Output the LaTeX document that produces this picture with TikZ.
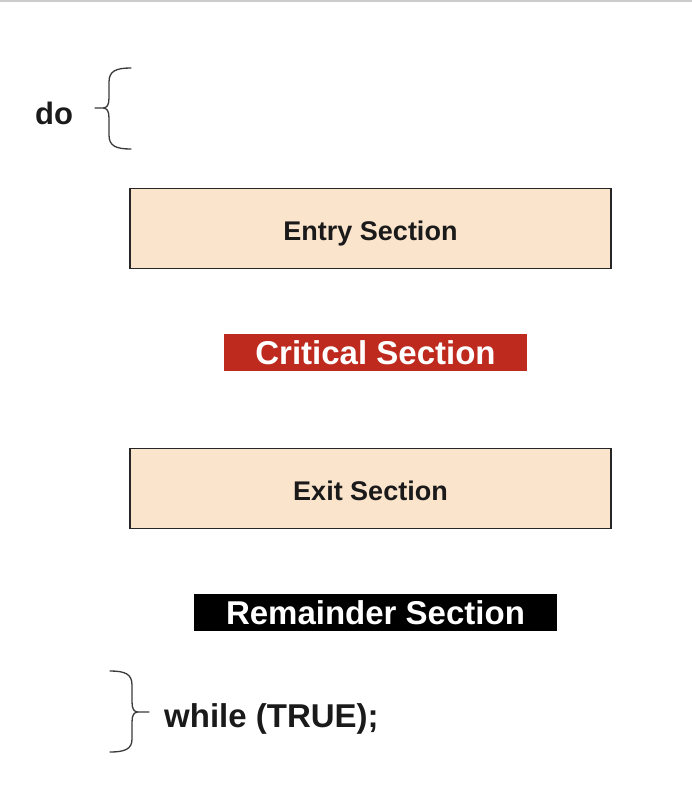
\documentclass[tikz,border=0pt]{standalone}
\usepackage{fontspec}
\setmainfont{Liberation Sans}
\definecolor{peach}{HTML}{FAE4CC}
\definecolor{critred}{HTML}{BF2A1F}
\definecolor{txt}{HTML}{1A1A1A}
\definecolor{brace}{HTML}{3A3A3A}
\begin{document}
\begin{tikzpicture}[x=1pt,y=-1pt,
  secbox/.style={draw=black!85,line width=1.3pt,fill=peach,minimum width=481pt,minimum height=80pt,inner sep=0pt,
    text height=23pt,text depth=0pt,font=\fontsize{27pt}{30pt}\selectfont\bfseries,text=txt},
  hlbox/.style={inner sep=0pt,minimum height=37pt,text height=23.6pt,text depth=0pt,
    font=\fontsize{33pt}{36pt}\selectfont\bfseries,text=white},
  lbl/.style={inner sep=0pt,font=\fontsize{31pt}{36pt}\selectfont\bfseries,text=txt},
  bracepath/.style={draw=brace,line width=1.3pt,line cap=round}]
\useasboundingbox (0,0) rectangle (692,788);
\fill[black!20] (0,0) rectangle (692,2);
\node[lbl,anchor=base west] (do) at (35,124) {do};
\node[secbox] (entry) at (370.5,228.5) {Entry Section};
\node[hlbox,fill=critred,minimum width=303pt] (crit) at (375.5,352.5) {Critical Section};
\node[secbox] (exit) at (370.5,488.5) {Exit Section};
\node[hlbox,fill=black,minimum width=363pt] (rem) at (375.5,612.5) {Remainder Section};
\node[lbl,anchor=base west,font=\fontsize{33pt}{36pt}\selectfont\bfseries] (wh) at (164,727) {while (TRUE);};
% left brace after "do"
\coordinate (lb1) at (131,68);
\coordinate (lb2) at (131,149);
\coordinate (lbt) at (95,108);
\draw[bracepath] (lb1) .. controls (116,68) and (109,71) .. (109,82)
  -- (109,98) .. controls (109,105) and (107,108) .. (103,108) -- (lbt)
  (103,108) .. controls (107,108) and (109,111) .. (109,118)
  -- (109,135) .. controls (109,146) and (116,149) .. (lb2);
% right brace before "while"
\coordinate (rb1) at (110,671);
\coordinate (rb2) at (110,752);
\coordinate (rbt) at (149,712);
\draw[bracepath] (rb1) .. controls (125,671) and (132,674) .. (132,685)
  -- (132,702) .. controls (132,709) and (134,712) .. (138,712) -- (rbt)
  (138,712) .. controls (134,712) and (132,715) .. (132,722)
  -- (132,739) .. controls (132,749) and (125,752) .. (rb2);
\end{tikzpicture}
\end{document}
